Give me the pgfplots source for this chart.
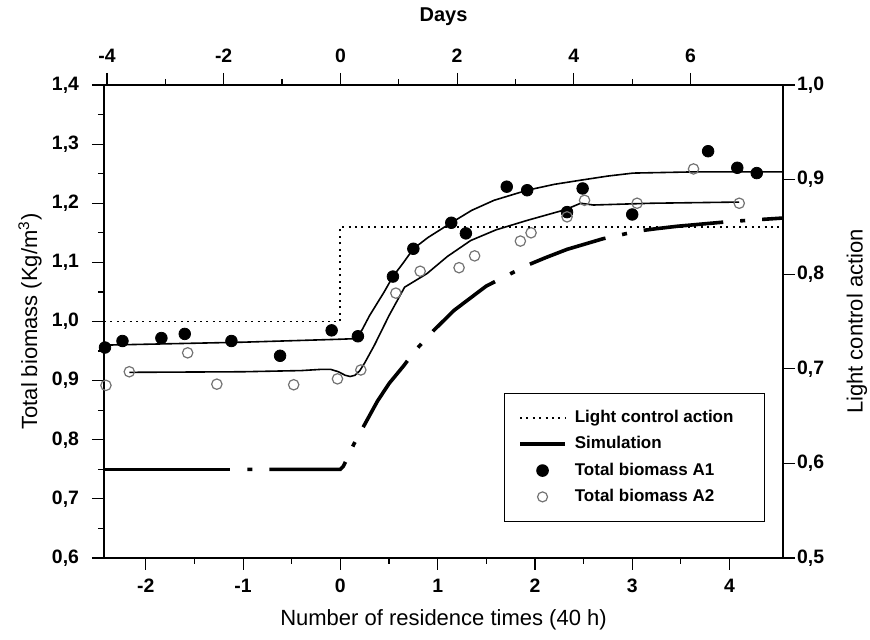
\documentclass[border=0pt]{standalone}
\usepackage{fontspec}
\setmainfont{Liberation Sans}
\usepackage{pgfplots}
\pgfplotsset{compat=1.18}

% shared frame for the two overlaid axes
\pgfplotsset{
  frame/.style={
    scale only axis, width=339.5pt, height=236.5pt,
    tick align=outside, major tick length=6pt, minor tick length=3pt,
    every tick/.style={black, line width=0.6pt},
    axis line style={black, line width=0.7pt},
    tick label style={font=\fontsize{9.7}{11}\selectfont\bfseries},
    label style={font=\fontsize{11}{13}\selectfont, anchor=center},
    xticklabel style={/pgf/number format/fixed, /pgf/number format/precision=0,
      /pgf/number format/assume math mode=true},
    yticklabel style={/pgf/number format/fixed, /pgf/number format/fixed zerofill,
      /pgf/number format/precision=1, /pgf/number format/use comma,
      /pgf/number format/assume math mode=true},
  },
  fitline/.style={black, line width=0.8pt, no markers},
  simline/.style={black, line width=1.8pt, no markers},
}

\begin{document}
\begin{tikzpicture}
\useasboundingbox (-52pt,-41pt) rectangle (383pt,279pt);
\begin{axis}[frame,
  axis x line*=bottom, axis y line*=left,
  xmin=-2.43, xmax=4.55, ymin=0.6, ymax=1.4,
  xtick={-2,-1,0,1,2,3,4}, minor x tick num=1,
  ytick={0.6,0.7,0.8,0.9,1.0,1.1,1.2,1.3,1.4}, minor y tick num=1,
  xticklabel style={yshift=-1pt},
  yticklabel style={xshift=-3pt},
  xlabel={Number of residence times (40 h)},
  ylabel={Total biomass (Kg/m\textsuperscript{3})},
  xlabel style={at={([yshift=-31pt]axis description cs:0.5,0)}},
  ylabel style={at={([xshift=-37pt]axis description cs:0,0.5)}},
  clip=false,
]
% simulation, first long dash
\addplot[simline] coordinates {(-2.43,0.75) (-1.13,0.75)};
% simulation, rest
\addplot[simline, dash pattern=on 40pt off 8.5pt on 2.5pt off 8.5pt, dash phase=40pt]
  coordinates {(-1.13,0.75) (0.0,0.75) (0.03,0.755) (0.14,0.793) (0.26,0.829)
    (0.38,0.865) (0.5,0.895) (0.65,0.925) (0.77,0.951) (0.96,0.985) (1.17,1.019)
    (1.5,1.06) (1.92,1.095) (2.11,1.108) (2.33,1.122) (2.7,1.14) (3.06,1.153)
    (3.25,1.157) (3.46,1.161) (4.0,1.169) (4.55,1.175)};

% fit A1
\addplot[fitline] coordinates {(-2.43,0.960) (-1.0,0.965) (0.0,0.970) (0.15,0.971)
    (0.22,0.985) (0.3,1.01) (0.45,1.05) (0.54,1.076) (0.65,1.10) (0.75,1.123)
    (0.9,1.142) (1.14,1.167) (1.35,1.188) (1.58,1.205) (1.92,1.222) (2.2,1.232)
    (2.47,1.239) (2.75,1.246) (3.01,1.251) (3.63,1.253) (4.55,1.253)};
% fit A2
\addplot[fitline] coordinates {(-2.17,0.914) (-1.0,0.915) (-0.4,0.917) (-0.2,0.919)
    (-0.1,0.919) (-0.02,0.915) (0.05,0.909) (0.1,0.907) (0.15,0.909) (0.2,0.917)
    (0.25,0.93) (0.35,0.96) (0.5,1.01) (0.66,1.058) (0.89,1.081) (1.1,1.11)
    (1.34,1.137) (1.6,1.155) (1.92,1.171) (2.31,1.189) (2.47,1.200) (2.6,1.197)
    (3.2,1.200) (4.1,1.202)};

% Total biomass A1
\addplot[only marks, mark=*, mark size=2.9pt, black] coordinates {
  (-2.42,0.956) (-2.24,0.967) (-1.84,0.972) (-1.6,0.979) (-1.12,0.967)
  (-0.62,0.942) (-0.09,0.985) (0.18,0.975) (0.54,1.076) (0.75,1.123)
  (1.14,1.167) (1.29,1.149) (1.71,1.228) (1.92,1.222) (2.33,1.185)
  (2.49,1.225) (3.0,1.181) (3.78,1.288) (4.08,1.26) (4.28,1.251)};
% Total biomass A2
\addplot[only marks, mark=o, mark size=2.6pt, black!55, mark options={line width=0.6pt}] coordinates {
  (-2.41,0.892) (-2.17,0.915) (-1.57,0.947) (-1.27,0.894) (-0.48,0.893)
  (-0.03,0.903) (0.21,0.918) (0.57,1.048) (0.82,1.085) (1.22,1.091)
  (1.38,1.111) (1.85,1.136) (1.96,1.15) (2.33,1.177) (2.51,1.205)
  (3.05,1.2) (3.63,1.258) (4.1,1.2)};
\end{axis}

\begin{axis}[frame,
  axis x line*=top, axis y line*=right,
  xmin=-4.05, xmax=7.583, ymin=0.5, ymax=1.0,
  xtick={-4,-2,0,2,4,6}, minor x tick num=1,
  ytick={0.5,0.6,0.7,0.8,0.9,1.0},
  xticklabel style={yshift=1.5pt},
  yticklabel style={xshift=-2.5pt},
  xlabel={\bfseries\fontsize{10}{12}\selectfont Days},
  ylabel={Light control action},
  xlabel style={at={([yshift=34pt]axis description cs:0.5,1)}},
  ylabel style={at={([xshift=37pt]axis description cs:1,0.5)}},
  legend style={at={(0.9735,0.076)}, anchor=south east, draw=black, line width=0.5pt,
    font=\fontsize{8.5}{10}\selectfont\bfseries, cells={anchor=west},
    row sep=1.5pt, inner xsep=7pt, inner ysep=6.5pt},
]
% light control action (days)
\addplot[black, line width=0.9pt, dash pattern=on 1pt off 2.2pt, no markers, forget plot]
  coordinates {(-4.05,0.75) (0,0.75) (0,0.85) (7.583,0.85)};

\addlegendimage{legend image code/.code={\draw[black, line width=0.9pt, dash pattern=on 1pt off 2.2pt] (0pt,0pt) -- (22.5pt,0pt);}}
\addlegendentry{\hspace{2pt}Light control action\rule{6.5pt}{0pt}}
\addlegendimage{legend image code/.code={\draw[black, line width=1.8pt] (0pt,0pt) -- (22.5pt,0pt);}}
\addlegendentry{\hspace{2pt}Simulation}
\addlegendimage{legend image code/.code={\fill[black] (11.25pt,0pt) circle (2.9pt);}}
\addlegendentry{\hspace{2pt}Total biomass A1}
\addlegendimage{legend image code/.code={\draw[black!55, line width=0.6pt] (11.25pt,0pt) circle (2.5pt);}}
\addlegendentry{\hspace{2pt}Total biomass A2}
\end{axis}
\end{tikzpicture}
\end{document}
